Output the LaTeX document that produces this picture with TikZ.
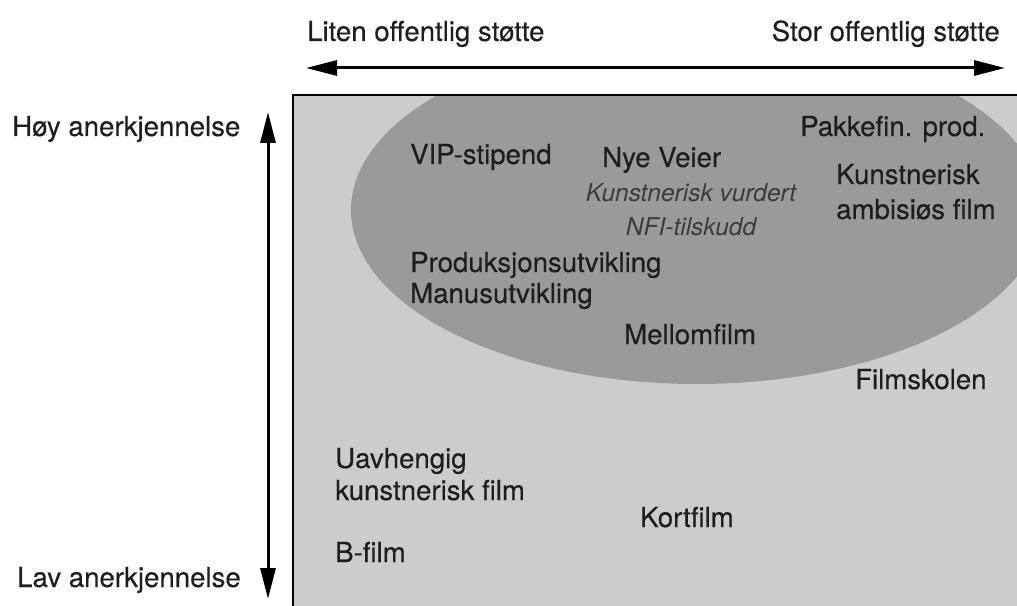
\documentclass[tikz,border=0pt]{standalone}
\usepackage{fontspec}
\setmainfont{TeX Gyre Heros}
\newfontfamily\labelfont[FakeBold=0.35]{TeX Gyre Heros}
\usetikzlibrary{arrows.meta}
\definecolor{panelgray}{HTML}{CCCCCC}
\definecolor{blobgray}{HTML}{9A9A9A}
\definecolor{inktext}{HTML}{1E1E1E}
\definecolor{softtext}{HTML}{3C3C3C}
\begin{document}
\begin{tikzpicture}[x=1bp,y=-1bp,
  lbl/.style={anchor=base west,inner sep=0pt,text=inktext,font=\labelfont\fontsize{27.6bp}{33bp}\selectfont},
  note/.style={anchor=base,inner sep=0pt,text=softtext,font=\fontsize{24.5bp}{29bp}\selectfont\itshape},
  axisarrow/.style={line width=3bp,{Triangle[length=31bp,width=15bp]}-{Triangle[length=31bp,width=15bp]}}]
\useasboundingbox (0,0) rectangle (1017,606);
% panel and the highlighted region
\begin{scope}
  \clip (293,95) rectangle (1030,620);
  \fill[panelgray] (293,95) rectangle (1030,620);
  \fill[blobgray] (697,210) ellipse [x radius=346, y radius=174];
\end{scope}
\draw[line width=1.5bp,black] (1030,95) -- (293,95) -- (293,620);
% axis end points
\coordinate (hl) at (306,68);
\coordinate (hr) at (1005,68);
\coordinate (vt) at (268,112);
\coordinate (vb) at (268,599);
\draw[axisarrow] (hl) -- (hr);
\draw[axisarrow] (vt) -- (vb);
% axis captions
\node[lbl] (small) at (307,41) {Liten offentlig støtte};
\node[lbl,anchor=base east] (large) at (1000,41) {Stor offentlig støtte};
\node[lbl] (high) at (12,136) {Høy anerkjennelse};
\node[lbl] (low) at (17,587) {Lav anerkjennelse};
% items
\node[lbl] (pakke) at (800,136) {Pakkefin. prod.};
\node[lbl] (vip) at (410,164) {VIP-stipend};
\node[lbl] (nye) at (602,167) {Nye Veier};
\node[lbl] (kunst1) at (836,184) {Kunstnerisk};
\node[lbl] (kunst2) at (836,219) {ambisiøs film};
\node[note] (nfi1) at (691,202) {Kunstnerisk vurdert};
\node[note] (nfi2) at (691,236) {NFI-tilskudd};
\node[lbl] (prod) at (410,272) {Produksjonsutvikling};
\node[lbl] (manus) at (410,303) {Manusutvikling};
\node[lbl] (mellom) at (624,344) {Mellomfilm};
\node[lbl] (skole) at (855,389) {Filmskolen};
\node[lbl] (uav1) at (335,468) {Uavhengig};
\node[lbl] (uav2) at (335,500) {kunstnerisk film};
\node[lbl] (kort) at (640,527) {Kortfilm};
\node[lbl] (bfilm) at (335,562) {B-film};
\end{tikzpicture}
\end{document}
